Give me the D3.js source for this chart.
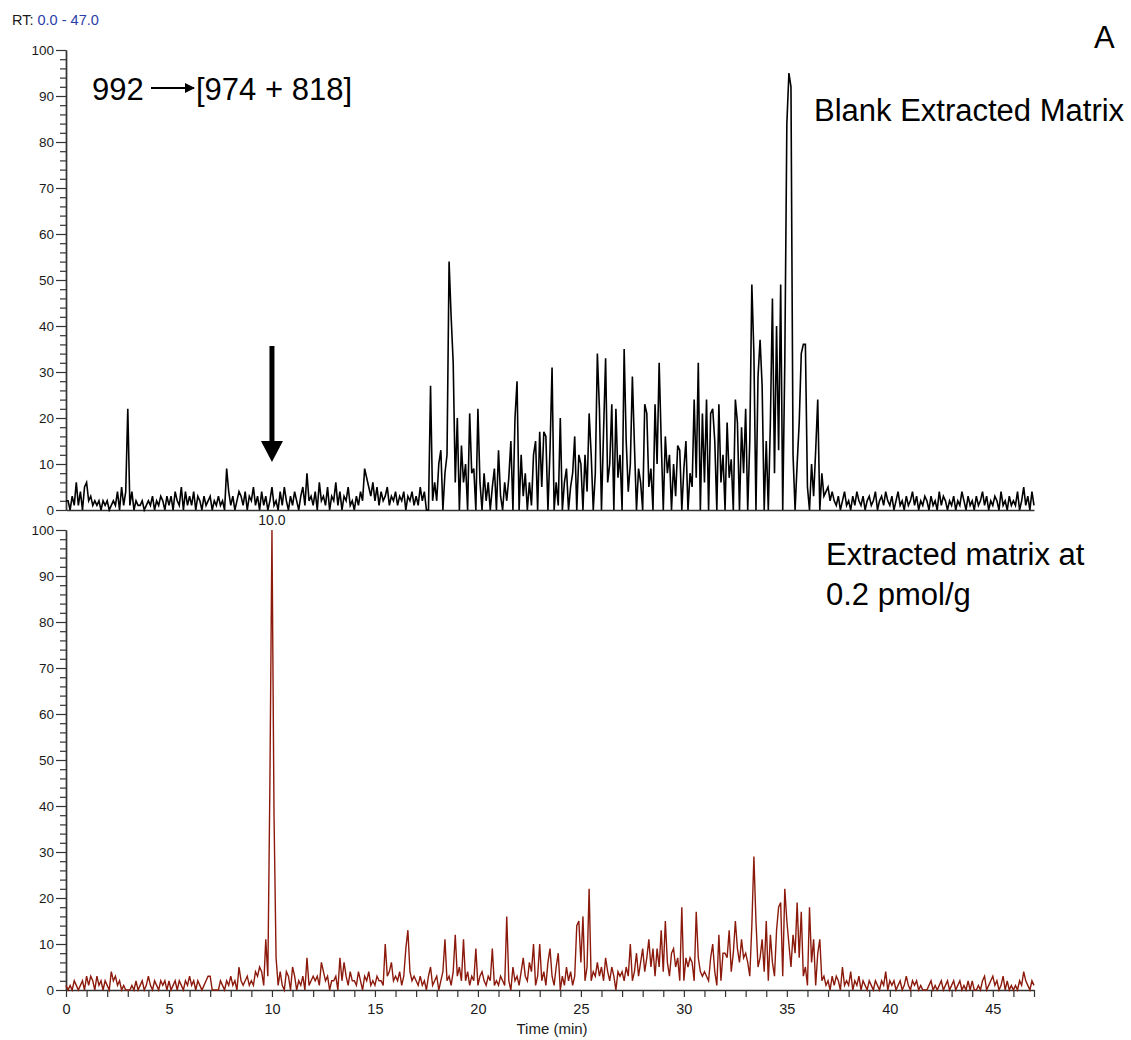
<!DOCTYPE html>
<html>
<head>
<meta charset="utf-8">
<script src="https://cdn.jsdelivr.net/npm/d3@7"></script>
<style>
  body { margin: 0; background: #fff; }
  svg { display: block; font-family: "Liberation Sans", Arial, sans-serif; }
</style>
</head>
<body>
<svg id="chart" width="1131" height="1040"></svg>
<script>
// Retention time grid (minutes between samples) and run length
const timeStep = 0.1;
const timeRange = [0, 47];

// Relative abundance (%) of the 992 -> [974 + 818] transition, blank extracted matrix
const blankMatrix = [
  2,2,0,3,1,6,1,4,0,5,   6,2,3,1,2,1,2,0,2,1,   2,0,1,2,1,4,0,5,1,4,
  22,1,4,0,2,1,1,2,0,1,  2,1,3,0,2,1,3,2,0,3,   1,3,0,4,2,1,5,0,4,1,
  3,1,4,0,3,2,0,3,1,2,   3,0,2,1,3,1,2,0,9,4,   1,3,0,2,4,3,1,4,0,3,
  2,5,1,3,0,4,1,3,0,2,   5,1,2,0,4,1,5,2,0,3,   1,4,2,0,3,5,1,8,2,3,
  1,4,0,6,2,3,1,5,0,3,   2,6,1,4,0,3,2,5,1,2,   0,3,1,4,2,9,7,5,3,6,
  2,5,1,4,2,3,5,1,3,2,   4,1,3,2,4,0,3,2,4,1,   3,1,5,2,4,0,0,27,2,6,
  2,10,13,0,8,12,54,42,32,6,   20,0,14,6,10,0,21,8,9,0,   22,6,0,8,2,6,0,5,9,0,
  13,3,0,6,2,7,15,0,20,28,     0,12,3,8,0,6,1,12,15,0,    17,5,17,16,0,13,31,0,6,1,
  20,0,6,9,0,5,8,16,0,12,      10,0,12,4,21,12,0,8,34,22, 0,17,33,6,10,23,0,22,7,12,
  0,35,15,4,10,29,14,0,9,6,    0,23,21,5,9,0,23,10,32,15, 0,16,8,12,0,10,3,14,13,0,
  9,15,0,8,5,24,7,32,0,21,     6,24,0,21,22,15,0,23,6,12, 0,19,7,11,0,24,19,0,18,8,
  22,0,15,49,34,0,29,37,27,0,  15,0,19,46,8,40,13,49,0,32, 84,95,92,12,0,10,19,34,36,36,
  5,0,10,3,13,24,0,8,3,4,      5,2,4,2,1,3,0,2,4,1,       2,0,3,1,4,2,1,3,0,2,
  3,1,2,4,0,2,3,1,4,2,   1,3,0,2,4,1,2,0,3,1,   2,4,1,3,0,2,1,3,2,0,
  3,1,2,0,4,1,3,2,0,2,   1,3,0,2,1,4,2,0,3,1,   2,0,3,1,2,4,1,3,0,2,
  1,3,2,0,4,1,2,0,3,1,   2,1,4,0,2,5,1,3,0,4,   1
];

// Relative abundance (%) of the same transition, extracted matrix at 0.2 pmol/g
const spikedMatrix = [
  1,0,1,0,2,1,0,1,2,0,   3,1,3,2,0,3,1,2,0,2,   1,0,4,2,3,1,2,0,1,0,
  0,0,1,0,2,0,1,2,0,1,   3,1,0,2,1,0,2,1,2,0,   2,0,1,2,0,2,1,0,2,1,
  3,1,2,0,2,1,0,1,2,3,   3,0,0,0,0,2,1,0,2,1,   3,1,2,0,5,2,1,2,3,1,
  2,1,4,3,5,4,1,11,3,45, 100,38,7,1,4,1,0,4,3,0, 5,3,0,2,1,3,0,7,1,2,
  3,2,3,1,6,4,2,3,0,2,   2,3,0,7,2,6,3,1,4,2,   2,1,4,2,0,3,2,4,1,2,
  1,3,2,2,1,10,3,4,6,2,  3,2,4,1,3,9,13,4,2,3,  2,1,3,1,2,0,3,5,1,2,
  3,0,2,4,11,2,3,1,4,12, 3,5,2,11,2,4,1,3,2,9,  1,3,4,2,1,3,2,9,1,2,
  1,3,2,1,16,2,0,5,2,3,  1,4,7,3,2,6,4,10,1,3,  10,2,4,1,6,9,3,1,5,8,
  0,3,1,5,2,4,1,3,14,15, 6,16,2,5,22,2,4,3,6,3, 5,2,7,4,2,5,3,0,4,3,
  4,2,5,3,10,2,4,8,3,6,  9,4,7,11,5,9,3,9,5,13, 4,15,6,3,8,9,5,7,2,18,
  2,7,5,7,6,2,17,7,4,3,  4,3,2,7,10,4,1,12,2,8, 8,7,13,4,8,15,9,6,11,7,
  8,6,3,14,29,15,5,7,11,4, 15,2,12,6,3,13,18,19,3,22, 15,10,5,12,8,19,7,17,3,5,
  1,18,6,11,1,8,11,2,3,1, 2,0,3,1,3,2,0,5,1,2,  1,4,0,2,1,3,0,2,1,0,
  2,1,0,2,1,0,2,1,4,0,   2,1,2,0,1,2,0,1,3,1,   0,2,1,2,0,1,0,0,0,1,
  2,0,1,0,1,2,0,1,2,0,   1,2,0,1,2,0,1,0,2,0,   2,0,0,1,0,2,3,0,1,2,
  3,1,2,0,1,3,0,2,0,1,   0,1,0,2,1,4,2,1,0,2,   1
];

// Axis ticks
const yMajorTicks = [0,10,20,30,40,50,60,70,80,90,100];
const yMinorTicks = [2,4,6,8,12,14,16,18,22,24,26,28,32,34,36,38,42,44,46,48,
                     52,54,56,58,62,64,66,68,72,74,76,78,82,84,86,88,92,94,96,98];
const xMinuteTicks = d3.range(0, 48, 1);
const xLabelledTicks = [0,5,10,15,20,25,30,35,40,45];

// Annotated peak apex (minutes)
const labelledPeak = 10.0;

const svg = d3.select("#chart");
const axisColor = "#333";
const textColor = "#1a1a1a";

const x = d3.scaleLinear().domain(timeRange).range([66, 1034]);
const yTop = d3.scaleLinear().domain([0, 100]).range([510, 50]);
const yBottom = d3.scaleLinear().domain([0, 100]).range([990, 530]);

function drawYAxis(scale) {
  const major = svg.append("g")
    .attr("transform", "translate(66,0)")
    .call(d3.axisLeft(scale).tickValues(yMajorTicks).tickSize(10).tickPadding(2).tickSizeOuter(0));
  major.selectAll("text").attr("font-size", 13.5).attr("fill", textColor)
    .attr("font-family", "Liberation Sans, Arial, sans-serif");
  const minor = svg.append("g")
    .attr("transform", "translate(66,0)")
    .call(d3.axisLeft(scale).tickValues(yMinorTicks).tickSize(6).tickFormat("").tickSizeOuter(0));
  [major, minor].forEach(g => {
    g.selectAll("line").attr("stroke", axisColor).attr("stroke-width", 1.2);
    g.select(".domain").attr("stroke", axisColor).attr("stroke-width", 1.4);
  });
}

drawYAxis(yTop);
drawYAxis(yBottom);

// Baseline of the upper trace (no time labels)
svg.append("g")
  .attr("transform", `translate(0,${yTop(0)})`)
  .call(d3.axisBottom(x).tickValues([]).tickSizeOuter(0))
  .select(".domain").attr("stroke", axisColor).attr("stroke-width", 1.6);

// Time axis under the lower trace
const xAxis = svg.append("g")
  .attr("transform", `translate(0,${yBottom(0)})`)
  .call(d3.axisBottom(x).tickValues(xMinuteTicks).tickSize(7).tickPadding(7).tickSizeOuter(0)
    .tickFormat(d => xLabelledTicks.includes(d) ? d3.format("d")(d) : ""));
xAxis.selectAll("line").attr("stroke", axisColor).attr("stroke-width", 1.2);
xAxis.select(".domain").attr("stroke", axisColor).attr("stroke-width", 1.6);
xAxis.selectAll("text").attr("font-size", 14.5).attr("fill", textColor)
  .attr("font-family", "Liberation Sans, Arial, sans-serif");

svg.append("text")
  .attr("x", x(23.6)).attr("y", 1034)
  .attr("text-anchor", "middle").attr("font-size", 15).attr("fill", textColor)
  .text("Time (min)");

// Traces
const lineTop = d3.line().x((d, i) => x(i * timeStep)).y(d => yTop(d));
const lineBottom = d3.line().x((d, i) => x(i * timeStep)).y(d => yBottom(d));

svg.append("path").datum(blankMatrix)
  .attr("d", lineTop).attr("fill", "none")
  .attr("stroke", "#000").attr("stroke-width", 1.6).attr("stroke-linejoin", "miter");

svg.append("path").datum(spikedMatrix)
  .attr("d", lineBottom).attr("fill", "none")
  .attr("stroke", "#8c1a0c").attr("stroke-width", 1.4);

// Peak apex label
svg.append("text")
  .attr("x", x(labelledPeak)).attr("y", yBottom(100) - 5)
  .attr("text-anchor", "middle").attr("font-size", 14).attr("fill", textColor)
  .text(d3.format(".1f")(labelledPeak));

// Header
const rt = svg.append("text").attr("x", 12).attr("y", 25).attr("font-size", 14.5).attr("fill", textColor);
rt.append("tspan").text("RT: ");
rt.append("tspan").attr("fill", "#2a3ea8").text(`${timeRange[0].toFixed(1)} - ${timeRange[1].toFixed(1)}`);

svg.append("text").attr("x", 1094).attr("y", 48).attr("font-size", 31).attr("fill", "#000").text("A");

// Transition label with arrow
const defs = svg.append("defs");
defs.append("marker").attr("id", "head")
  .attr("viewBox", "0 0 10 10").attr("refX", 9).attr("refY", 5)
  .attr("markerWidth", 10).attr("markerHeight", 10).attr("markerUnits", "userSpaceOnUse")
  .attr("orient", "auto")
  .append("path").attr("d", "M0,0 L10,5 L0,10 Z").attr("fill", "#000");

svg.append("text").attr("x", 92).attr("y", 100).attr("font-size", 31).attr("fill", "#000").text("992");
svg.append("line").attr("x1", 151).attr("y1", 88).attr("x2", 194).attr("y2", 88)
  .attr("stroke", "#000").attr("stroke-width", 2).attr("marker-end", "url(#head)");
svg.append("text").attr("x", 196).attr("y", 100).attr("font-size", 31).attr("fill", "#000").text("[974 + 818]");

svg.append("text").attr("x", 814).attr("y", 121).attr("font-size", 31).attr("fill", "#000")
  .text("Blank Extracted Matrix");

svg.append("text").attr("x", 826).attr("y", 565).attr("font-size", 31).attr("fill", "#000")
  .text("Extracted matrix at");
svg.append("text").attr("x", 826).attr("y", 605).attr("font-size", 31).attr("fill", "#000")
  .text("0.2 pmol/g");

// Down arrow marking the expected retention time in the blank
const ax = x(labelledPeak);
svg.append("rect").attr("x", ax - 2.5).attr("y", 346).attr("width", 5).attr("height", 97).attr("fill", "#000");
svg.append("path")
  .attr("d", `M${ax - 11},441 L${ax + 11},441 L${ax},462 Z`)
  .attr("fill", "#000");
</script>
</body>
</html>
